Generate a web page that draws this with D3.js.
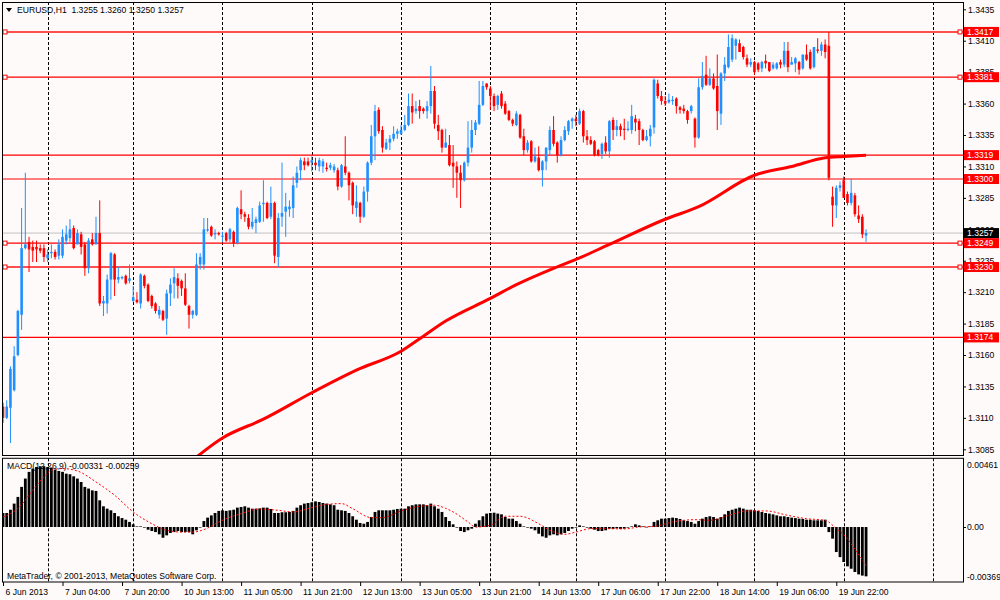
<!DOCTYPE html>
<html>
<head>
<meta charset="utf-8">
<script src="https://cdn.jsdelivr.net/npm/d3@7"></script>
<style>
  body { margin: 0; background: #fffafa; }
  text { font-family: "Liberation Sans", Arial, sans-serif; font-size: 8.6px; fill: #000; }
</style>
</head>
<body>
<div id="chart"></div>
<script>
// EURUSD H1, one entry per bar
const opens = [
1.3119,1.3110,1.3118,1.3132,1.3160,1.3192,1.3245,1.3250,1.3246,1.3246,
1.3245,1.3245,1.3237,1.3241,1.3242,1.3239,1.3239,1.3251,1.3253,1.3261,
1.3248,1.3256,1.3248,1.3229,1.3252,1.3248,1.3257,1.3201,1.3201,1.3220,
1.3240,1.3220,1.3221,1.3223,1.3219,1.3203,1.3204,1.3201,1.3223,1.3216,
1.3207,1.3201,1.3192,1.3195,1.3189,1.3209,1.3217,1.3221,1.3219,1.3213,
1.3199,1.3192,1.3192,1.3232,1.3232,1.3259,1.3262,1.3256,1.3257,1.3254,
1.3257,1.3252,1.3258,1.3249,1.3276,1.3272,1.3269,1.3262,1.3265,1.3266,
1.3280,1.3281,1.3270,1.3281,1.3238,1.3270,1.3274,1.3276,1.3277,1.3297,
1.3307,1.3314,1.3314,1.3313,1.3313,1.3310,1.3310,1.3309,1.3309,1.3307,
1.3307,1.3294,1.3310,1.3305,1.3297,1.3277,1.3281,1.3270,1.3290,1.3313,
1.3334,1.3355,1.3339,1.3324,1.3329,1.3332,1.3336,1.3336,1.3339,1.3343,
1.3358,1.3354,1.3358,1.3356,1.3354,1.3358,1.3370,1.3343,1.3339,1.3325,
1.3327,1.3313,1.3310,1.3305,1.3299,1.3313,1.3325,1.3339,1.3344,1.3359,
1.3376,1.3372,1.3366,1.3359,1.3368,1.3360,1.3354,1.3347,1.3343,1.3351,
1.3334,1.3323,1.3330,1.3314,1.3317,1.3307,1.3314,1.3323,1.3339,1.3329,
1.3319,1.3331,1.3338,1.3346,1.3348,1.3344,1.3354,1.3334,1.3331,1.3330,
1.3323,1.3320,1.3329,1.3322,1.3347,1.3339,1.3342,1.3340,1.3339,1.3339,
1.3348,1.3346,1.3339,1.3331,1.3334,1.3341,1.3376,1.3366,1.3362,1.3361,
1.3362,1.3364,1.3357,1.3356,1.3354,1.3354,1.3348,1.3333,1.3373,1.3383,
1.3375,1.3380,1.3374,1.3352,1.3384,1.3389,1.3395,1.3406,1.3408,1.3405,
1.3396,1.3391,1.3393,1.3392,1.3388,1.3394,1.3393,1.3388,1.3388,1.3393,
1.3391,1.3402,1.3391,1.3392,1.3393,1.3388,1.3399,1.3401,1.3389,1.3403,
1.3402,1.3407,1.3406,1.3286,1.3279,1.3293,1.3299,1.3288,1.3281,1.3287,
1.3271,1.3270,1.3255];

const highs = [
1.3122,1.3124,1.3151,1.3167,1.3196,1.3277,1.3305,1.3254,1.3251,1.3251,
1.3248,1.3248,1.3244,1.3248,1.3244,1.3252,1.3260,1.3263,1.3268,1.3263,
1.3260,1.3258,1.3250,1.3253,1.3257,1.3270,1.3283,1.3207,1.3224,1.3242,
1.3241,1.3230,1.3223,1.3224,1.3232,1.3215,1.3210,1.3225,1.3224,1.3217,
1.3208,1.3202,1.3199,1.3196,1.3212,1.3221,1.3229,1.3225,1.3220,1.3225,
1.3200,1.3196,1.3241,1.3241,1.3269,1.3269,1.3263,1.3260,1.3258,1.3258,
1.3258,1.3261,1.3259,1.3278,1.3291,1.3274,1.3272,1.3277,1.3270,1.3282,
1.3299,1.3282,1.3294,1.3282,1.3273,1.3313,1.3289,1.3283,1.3302,1.3310,
1.3317,1.3317,1.3317,1.3318,1.3317,1.3317,1.3316,1.3313,1.3313,1.3312,
1.3309,1.3312,1.3334,1.3306,1.3298,1.3295,1.3282,1.3294,1.3314,1.3343,
1.3359,1.3357,1.3342,1.3332,1.3335,1.3342,1.3340,1.3343,1.3351,1.3368,
1.3368,1.3362,1.3363,1.3357,1.3362,1.3390,1.3374,1.3351,1.3340,1.3340,
1.3335,1.3327,1.3314,1.3311,1.3314,1.3346,1.3347,1.3347,1.3378,1.3378,
1.3376,1.3374,1.3368,1.3367,1.3370,1.3362,1.3355,1.3348,1.3354,1.3352,
1.3340,1.3331,1.3331,1.3325,1.3326,1.3315,1.3325,1.3342,1.3350,1.3330,
1.3334,1.3342,1.3347,1.3349,1.3351,1.3356,1.3355,1.3339,1.3334,1.3331,
1.3324,1.3329,1.3334,1.3347,1.3349,1.3347,1.3344,1.3348,1.3346,1.3359,
1.3351,1.3348,1.3340,1.3339,1.3343,1.3380,1.3379,1.3370,1.3366,1.3368,
1.3366,1.3365,1.3358,1.3359,1.3355,1.3359,1.3349,1.3380,1.3393,1.3398,
1.3388,1.3384,1.3399,1.3385,1.3397,1.3415,1.3415,1.3412,1.3411,1.3406,
1.3399,1.3396,1.3394,1.3393,1.3394,1.3399,1.3393,1.3393,1.3393,1.3395,
1.3409,1.3409,1.3397,1.3397,1.3394,1.3399,1.3407,1.3403,1.3405,1.3412,
1.3409,1.3411,1.3417,1.3294,1.3295,1.3298,1.3302,1.3290,1.3300,1.3289,
1.3279,1.3272,1.3260];

const lows = [
1.3106,1.3109,1.3090,1.3131,1.3159,1.3180,1.3244,1.3226,1.3234,1.3234,
1.3241,1.3234,1.3234,1.3237,1.3236,1.3236,1.3237,1.3248,1.3250,1.3244,
1.3248,1.3240,1.3223,1.3225,1.3247,1.3248,1.3199,1.3191,1.3193,1.3204,
1.3207,1.3217,1.3220,1.3216,1.3217,1.3202,1.3201,1.3197,1.3213,1.3202,
1.3197,1.3193,1.3189,1.3187,1.3176,1.3199,1.3205,1.3205,1.3207,1.3199,
1.3181,1.3189,1.3191,1.3228,1.3228,1.3258,1.3254,1.3252,1.3255,1.3250,
1.3250,1.3250,1.3246,1.3248,1.3268,1.3266,1.3260,1.3260,1.3257,1.3265,
1.3266,1.3268,1.3268,1.3233,1.3230,1.3262,1.3254,1.3270,1.3269,1.3293,
1.3299,1.3307,1.3310,1.3306,1.3307,1.3306,1.3305,1.3306,1.3307,1.3305,
1.3291,1.3293,1.3303,1.3283,1.3272,1.3270,1.3265,1.3269,1.3282,1.3311,
1.3315,1.3336,1.3321,1.3323,1.3323,1.3330,1.3332,1.3335,1.3338,1.3342,
1.3344,1.3352,1.3348,1.3352,1.3348,1.3352,1.3340,1.3331,1.3321,1.3325,
1.3310,1.3293,1.3285,1.3277,1.3298,1.3310,1.3321,1.3335,1.3343,1.3358,
1.3371,1.3355,1.3354,1.3355,1.3356,1.3351,1.3346,1.3342,1.3342,1.3332,
1.3319,1.3321,1.3313,1.3313,1.3306,1.3294,1.3307,1.3319,1.3326,1.3313,
1.3318,1.3330,1.3335,1.3340,1.3342,1.3343,1.3329,1.3327,1.3327,1.3318,
1.3318,1.3316,1.3320,1.3317,1.3331,1.3334,1.3334,1.3331,1.3338,1.3336,
1.3338,1.3327,1.3330,1.3330,1.3326,1.3336,1.3364,1.3359,1.3358,1.3360,
1.3359,1.3352,1.3352,1.3352,1.3344,1.3352,1.3325,1.3332,1.3371,1.3374,
1.3374,1.3371,1.3339,1.3343,1.3378,1.3388,1.3393,1.3395,1.3401,1.3395,
1.3389,1.3389,1.3383,1.3385,1.3385,1.3388,1.3385,1.3387,1.3387,1.3388,
1.3389,1.3385,1.3391,1.3385,1.3383,1.3387,1.3394,1.3387,1.3388,1.3400,
1.3398,1.3396,1.3299,1.3262,1.3269,1.3290,1.3285,1.3279,1.3279,1.3270,
1.3265,1.3253,1.3250];

const closes = [
1.3110,1.3119,1.3149,1.3159,1.3195,1.3245,1.3248,1.3244,1.3243,1.3244,
1.3243,1.3238,1.3240,1.3242,1.3238,1.3248,1.3254,1.3256,1.3260,1.3245,
1.3257,1.3246,1.3229,1.3251,1.3248,1.3257,1.3201,1.3203,1.3220,1.3241,
1.3220,1.3222,1.3222,1.3217,1.3221,1.3206,1.3202,1.3224,1.3215,1.3203,
1.3199,1.3195,1.3196,1.3188,1.3209,1.3216,1.3222,1.3215,1.3213,1.3200,
1.3192,1.3195,1.3232,1.3238,1.3260,1.3260,1.3255,1.3257,1.3256,1.3255,
1.3251,1.3260,1.3249,1.3277,1.3272,1.3270,1.3262,1.3266,1.3268,1.3279,
1.3281,1.3269,1.3281,1.3239,1.3269,1.3273,1.3278,1.3278,1.3295,1.3305,
1.3315,1.3311,1.3311,1.3315,1.3311,1.3315,1.3314,1.3308,1.3311,1.3310,
1.3294,1.3311,1.3305,1.3295,1.3279,1.3282,1.3270,1.3290,1.3313,1.3334,
1.3354,1.3338,1.3325,1.3329,1.3332,1.3336,1.3338,1.3339,1.3343,1.3358,
1.3353,1.3356,1.3354,1.3354,1.3358,1.3370,1.3344,1.3338,1.3325,1.3329,
1.3311,1.3310,1.3305,1.3299,1.3313,1.3325,1.3339,1.3345,1.3359,1.3374,
1.3373,1.3366,1.3358,1.3366,1.3358,1.3352,1.3347,1.3344,1.3352,1.3333,
1.3323,1.3329,1.3314,1.3318,1.3307,1.3314,1.3325,1.3339,1.3328,1.3319,
1.3331,1.3339,1.3346,1.3348,1.3346,1.3354,1.3334,1.3331,1.3328,1.3319,
1.3319,1.3328,1.3322,1.3346,1.3339,1.3342,1.3339,1.3339,1.3340,1.3350,
1.3345,1.3339,1.3331,1.3334,1.3340,1.3379,1.3366,1.3362,1.3360,1.3363,
1.3363,1.3358,1.3355,1.3354,1.3347,1.3358,1.3333,1.3373,1.3382,1.3375,
1.3380,1.3372,1.3354,1.3384,1.3391,1.3405,1.3412,1.3411,1.3401,1.3397,
1.3391,1.3393,1.3385,1.3387,1.3393,1.3392,1.3386,1.3391,1.3392,1.3391,
1.3402,1.3389,1.3393,1.3396,1.3387,1.3399,1.3395,1.3388,1.3405,1.3402,
1.3407,1.3401,1.3301,1.3279,1.3293,1.3295,1.3285,1.3281,1.3289,1.3272,
1.3268,1.3256,1.3257];

// moving average, read at a few bars
const maBars = [50,59,70,83,95,107,113,119,131,138,148,154,163,178,187,202,212,221,226,232];
const maValues = [1.3074,1.3094,1.3109,1.3130,1.3148,1.3163,1.3175,1.3187,1.3205,1.3216,
                  1.3229,1.3236,1.3248,1.3268,1.3278,1.3303,1.3310,1.3317,1.3318,1.3319];

// MACD(12,26,9) main histogram, one per bar
const macdMain = [
0.00094,0.00094,0.00116,0.00157,0.00202,0.00269,0.00325,0.00370,0.00392,0.00403,
0.00408,0.00408,0.00403,0.00399,0.00385,0.00376,0.00370,0.00358,0.00354,0.00340,
0.00325,0.00302,0.00269,0.00258,0.00246,0.00242,0.00179,0.00139,0.00123,0.00112,
0.00094,0.00072,0.00060,0.00049,0.00034,0.00018,0.00004,0.00004,-0.00002,-0.00018,
-0.00027,-0.00034,-0.00049,-0.00072,-0.00056,-0.00040,-0.00034,-0.00027,-0.00034,-0.00034,
-0.00034,-0.00049,-0.00022,-0.00004,0.00040,0.00063,0.00078,0.00094,0.00108,0.00112,
0.00108,0.00112,0.00116,0.00130,0.00134,0.00139,0.00130,0.00123,0.00123,0.00125,
0.00130,0.00130,0.00121,0.00094,0.00094,0.00099,0.00099,0.00101,0.00108,0.00130,
0.00146,0.00157,0.00161,0.00166,0.00172,0.00168,0.00161,0.00157,0.00152,0.00146,
0.00116,0.00112,0.00108,0.00094,0.00072,0.00049,0.00027,0.00022,0.00034,0.00067,
0.00101,0.00112,0.00112,0.00112,0.00112,0.00116,0.00121,0.00123,0.00123,0.00139,
0.00146,0.00152,0.00152,0.00152,0.00146,0.00157,0.00139,0.00123,0.00101,0.00067,
0.00040,0.00018,-0.00004,-0.00027,-0.00034,-0.00022,-0.00011,0.00022,0.00045,0.00072,
0.00090,0.00094,0.00096,0.00090,0.00085,0.00067,0.00056,0.00056,0.00040,0.00022,
0.00004,-0.00004,-0.00011,-0.00022,-0.00045,-0.00063,-0.00072,-0.00056,-0.00049,-0.00056,
-0.00049,-0.00040,-0.00027,-0.00011,-0.00004,0.00011,0.00004,-0.00001,-0.00011,-0.00018,
-0.00027,-0.00027,-0.00022,-0.00011,-0.00013,-0.00009,-0.00013,-0.00011,-0.00004,0.00004,
0.00018,0.00011,0.00004,0.00001,0.00004,0.00034,0.00045,0.00056,0.00056,0.00060,
0.00063,0.00060,0.00054,0.00045,0.00040,0.00034,0.00022,0.00040,0.00056,0.00067,
0.00072,0.00067,0.00056,0.00067,0.00085,0.00108,0.00116,0.00123,0.00130,0.00123,
0.00116,0.00116,0.00112,0.00108,0.00101,0.00094,0.00090,0.00085,0.00078,0.00072,
0.00072,0.00067,0.00063,0.00060,0.00056,0.00054,0.00049,0.00049,0.00045,0.00045,
0.00045,0.00049,-0.00034,-0.00078,-0.00168,-0.00202,-0.00235,-0.00264,-0.00280,-0.00302,
-0.00318,-0.00326,-0.00331];

// signal line, read at a few bars
const signalBars = [0,4,8,11,13,16,20,25,30,35,40,44,48,51,55,58,64,69,74,78,83,87,91,94,99,102,
                    107,111,116,119,121,125,127,131,135,139,144,147,151,154,158,162,167,171,175,
                    180,186,190,195,200,205,211,216,221,224,227,229,231,232];
const signalValues = [0.00067,0.00125,0.00246,0.00336,0.00381,0.00392,0.00376,0.00302,0.00213,0.00101,
                      0.00022,-0.00022,-0.00034,-0.00034,-0.00007,0.00034,0.00090,0.00121,0.00112,0.00101,
                      0.00130,0.00152,0.00157,0.00123,0.00063,0.00063,0.00108,0.00134,0.00146,0.00125,
                      0.00101,0.00034,0.00000,0.00011,0.00072,0.00072,0.00022,-0.00022,-0.00049,-0.00034,
                      -0.00011,-0.00011,-0.00013,0.00000,0.00004,0.00034,0.00049,0.00045,0.00078,0.00108,
                      0.00108,0.00078,0.00056,0.00045,-0.00011,-0.00078,-0.00150,-0.00220,-0.00259];

// horizontal levels drawn on the chart
const levels = [1.3417, 1.3381, 1.3319, 1.3300, 1.3249, 1.3230, 1.3174];
const levelsWithAnchor = [1.3417, 1.3381, 1.3249, 1.3230];
const bidPrice = 1.3257;

const priceTicks = [1.3435,1.3410,1.3385,1.3360,1.3335,1.3310,1.3285,1.3260,1.3235,1.3210,
                    1.3185,1.3160,1.3135,1.3110,1.3085];
const macdTicks = [0.00461, 0, -0.00369];
const macdTickText = ["0.00461", "0.00", "-0.00369"];

const dayStartBars = [12,35,59,83,107,131,154,178,202,226,250];
const timeTickBars = [0,16,32,48,64,80,96,112,128,144,160,176,192,208,224];
const timeTickText = ["6 Jun 2013","7 Jun 04:00","7 Jun 20:00","10 Jun 13:00","11 Jun 05:00",
                      "11 Jun 21:00","12 Jun 13:00","13 Jun 05:00","13 Jun 21:00","14 Jun 13:00",
                      "17 Jun 06:00","17 Jun 22:00","18 Jun 14:00","19 Jun 06:00","19 Jun 22:00"];

const width = 1000, height = 600;
const plotLeft = 2, plotRight = 963;
const mainTop = 2, mainBottom = 455;
const subTop = 458.3, subBottom = 582;

const svg = d3.select("#chart")
    .append("svg")
    .attr("width", width)
    .attr("height", height)
    .style("background", "#fffafa");

const x = d3.scaleLinear().domain([-0.27, 258.06]).range([plotLeft, plotRight]);
const y = d3.scaleLinear().domain([1.3085, 1.3435]).range([449.3, 9.3]);
const ym = d3.scaleLinear().domain([-0.00369, 0.00461]).range([subBottom, subTop]);

const defs = svg.append("defs");
defs.append("clipPath").attr("id", "clipMain")
    .append("rect")
    .attr("x", plotLeft).attr("y", mainTop)
    .attr("width", plotRight - plotLeft).attr("height", mainBottom - mainTop);
defs.append("clipPath").attr("id", "clipSub")
    .append("rect")
    .attr("x", plotLeft).attr("y", subTop)
    .attr("width", plotRight - plotLeft).attr("height", subBottom - subTop);

// day separators
[[mainTop, mainBottom], [subTop, subBottom]].forEach(function(r) {
    svg.append("g").selectAll("line")
        .data(dayStartBars)
        .enter().append("line")
        .attr("x1", d => Math.round(x(d)) + 0.5)
        .attr("x2", d => Math.round(x(d)) + 0.5)
        .attr("y1", r[0])
        .attr("y2", r[1])
        .attr("stroke", "#000")
        .attr("stroke-width", 1)
        .attr("stroke-dasharray", "3,2");
});

// title
svg.append("path")
    .attr("d", "M6,8 L12,8 L9,12 Z")
    .attr("fill", "#000");
svg.append("text")
    .attr("x", 17)
    .attr("y", 13)
    .text("EURUSD,H1  1.3255 1.3260 1.3250 1.3257")
    .attr("xml:space", "preserve")
    .style("white-space", "pre");

// horizontal levels
const main = svg.append("g").attr("clip-path", "url(#clipMain)");

main.append("line")
    .attr("x1", plotLeft).attr("x2", plotRight)
    .attr("y1", y(bidPrice)).attr("y2", y(bidPrice))
    .attr("stroke", "#c0c0c0")
    .attr("stroke-width", 1);

main.selectAll(".level")
    .data(levels)
    .enter().append("line")
    .attr("class", "level")
    .attr("x1", plotLeft).attr("x2", plotRight)
    .attr("y1", d => y(d)).attr("y2", d => y(d))
    .attr("stroke", d => (d === 1.3417 || d === 1.3230) ? "#ff5050" : "#ff0000")
    .attr("stroke-width", d => (d === 1.3417 || d === 1.3230) ? 2 : 1.2);

[5, 960].forEach(function(px) {
    svg.append("g").selectAll("rect")
        .data(levelsWithAnchor)
        .enter().append("rect")
        .attr("x", px - 2).attr("y", d => y(d) - 2)
        .attr("width", 4).attr("height", 4)
        .attr("fill", "#fff")
        .attr("stroke", "#ff0000")
        .attr("stroke-width", 1);
});

// moving average
main.append("path")
    .datum(maBars)
    .attr("fill", "none")
    .attr("stroke", "#ff0000")
    .attr("stroke-width", 3)
    .attr("d", d3.line()
        .x(d => x(d))
        .y((d, i) => y(maValues[i]))
        .curve(d3.curveMonotoneX));

// candles
const bars = d3.range(closes.length);
const candleColor = i => closes[i] >= opens[i] ? "#1e90ff" : "#ff0000";

const candle = main.selectAll(".candle")
    .data(bars)
    .enter().append("g")
    .attr("class", "candle");

candle.append("line")
    .attr("x1", i => x(i))
    .attr("x2", i => x(i))
    .attr("y1", i => y(highs[i]))
    .attr("y2", i => y(lows[i]))
    .attr("stroke", candleColor)
    .attr("stroke-width", 1);

candle.append("rect")
    .attr("x", i => x(i) - 1.3)
    .attr("width", 2.6)
    .attr("y", i => y(Math.max(opens[i], closes[i])))
    .attr("height", i => Math.max(1, Math.abs(y(opens[i]) - y(closes[i]))))
    .attr("fill", candleColor);

// price axis
svg.append("g")
    .attr("transform", `translate(${plotRight},0)`)
    .call(d3.axisRight(y).tickValues(priceTicks).tickFormat(d3.format(".4f")).tickSize(3).tickPadding(2))
    .call(g => g.select(".domain").remove());

// level labels
const tags = svg.append("g").selectAll("g")
    .data(levels.concat([bidPrice]))
    .enter().append("g")
    .attr("transform", d => `translate(964,${y(d)})`);

tags.append("rect")
    .attr("x", 0).attr("y", -5)
    .attr("width", 35).attr("height", 10)
    .attr("fill", d => d === bidPrice ? "#000" : "#ff0000");

tags.append("text")
    .attr("x", 3)
    .attr("dy", "0.35em")
    .style("fill", "#fff")
    .text(d3.format(".4f"));

// MACD window
svg.append("text")
    .attr("x", 7)
    .attr("y", 469)
    .text("MACD(12,26,9) -0.00331 -0.00259");

svg.append("text")
    .attr("x", 7)
    .attr("y", 579)
    .text("MetaTrader, \u00a9 2001-2013, MetaQuotes Software Corp.");

const sub = svg.append("g").attr("clip-path", "url(#clipSub)");

sub.selectAll(".hist")
    .data(bars)
    .enter().append("rect")
    .attr("class", "hist")
    .attr("x", i => x(i) - 1.4)
    .attr("width", 2.8)
    .attr("y", i => Math.min(ym(macdMain[i]), ym(0)))
    .attr("height", i => Math.max(0.6, Math.abs(ym(macdMain[i]) - ym(0))))
    .attr("fill", "#000");

sub.append("path")
    .datum(signalBars)
    .attr("fill", "none")
    .attr("stroke", "#ff0000")
    .attr("stroke-width", 1)
    .attr("stroke-dasharray", "2,2")
    .attr("d", d3.line()
        .x(d => x(d))
        .y((d, i) => ym(signalValues[i]))
        .curve(d3.curveMonotoneX));

const macdAxis = svg.append("g")
    .attr("transform", `translate(${plotRight},0)`)
    .call(d3.axisRight(ym).tickValues(macdTicks).tickFormat((d, i) => macdTickText[i]).tickSize(3).tickPadding(1))
    .call(g => g.select(".domain").remove());
macdAxis.selectAll(".tick").filter(d => d !== 0).select("line").remove();
macdAxis.selectAll(".tick text").attr("dy", d => d > 0 ? "1.1em" : (d < 0 ? "-0.35em" : "0.32em"));

// time axis
svg.append("g")
    .attr("transform", `translate(0,${subBottom})`)
    .call(d3.axisBottom(x).tickValues(timeTickBars).tickFormat((d, i) => timeTickText[i]).tickSize(4).tickPadding(3))
    .call(g => g.select(".domain").remove())
    .selectAll("text")
    .attr("text-anchor", "start")
    .attr("x", 2);

// frames
svg.append("rect")
    .attr("x", plotLeft + 0.5).attr("y", mainTop + 0.5)
    .attr("width", plotRight - plotLeft).attr("height", mainBottom - mainTop)
    .attr("fill", "none").attr("stroke", "#000");
svg.append("rect")
    .attr("x", plotLeft + 0.5).attr("y", subTop)
    .attr("width", plotRight - plotLeft).attr("height", subBottom - subTop)
    .attr("fill", "none").attr("stroke", "#000");
</script>
</body>
</html>
